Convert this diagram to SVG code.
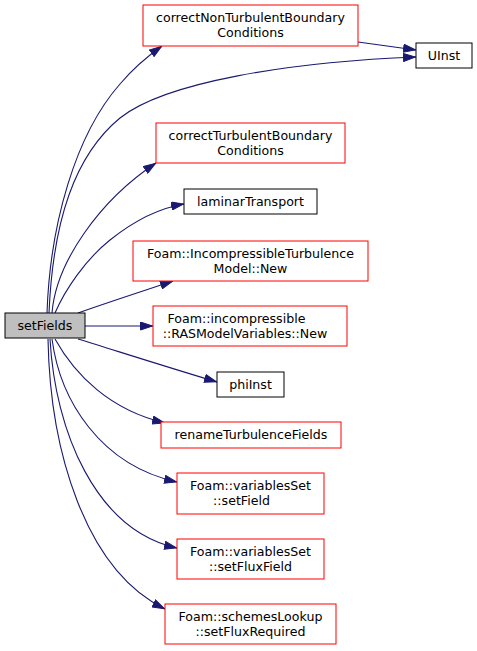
<svg xmlns="http://www.w3.org/2000/svg" width="477" height="651" viewBox="0 0 477 651">
<defs>
<marker id="arr" markerUnits="userSpaceOnUse" markerWidth="13" markerHeight="9" refX="13" refY="4.5" orient="auto" viewBox="0 0 13 9">
<path d="M0.5,0.5 L12.5,4.5 L0.5,8.5 z" fill="#191970" stroke="#191970" stroke-width="1"/>
</marker>
</defs>
<style>
.n rect{fill:#fff;stroke:#ff0000;stroke-width:1}
.n.b rect{stroke:#000}
.n.cur rect{fill:#bfbfbf;stroke:#000}
.n text{font-family:"DejaVu Sans",sans-serif;font-size:12.6px;fill:#000;text-anchor:middle}
.e path{fill:none;stroke:#191970;stroke-width:1.1;marker-end:url(#arr)}
</style>
<g id="edges" class="e">
<path d="M47,313 C50,225 75,135 120,84 C131,71 145,58 162,46"/>
<path d="M49,313 C53,220 75,155 120,118 C165,82 290,62 416,57"/>
<path d="M358,42 L416,50"/>
<path d="M52,313 C56,262 100,200 156,163"/>
<path d="M55,313 C65,290 85,260 110,240 C135,220 160,208 184,204"/>
<path d="M78,313 C100,305 140,292 173,281"/>
<path d="M85,326 L153,326"/>
<path d="M78,339 C120,352 170,368 217,382"/>
<path d="M55,339 C75,375 110,410 165,423"/>
<path d="M52,339 C60,400 100,465 177,482"/>
<path d="M50,339 C55,430 95,530 177,548"/>
<path d="M48,339 C50,450 85,570 165,609"/>
</g>
<g id="setFields" class="n cur"><rect x="5" y="313" width="80" height="25"/><text x="45" y="330">setFields</text></g>
<g id="correctNonTurbulentBoundaryConditions" class="n"><rect x="143" y="5" width="215" height="41"/><text x="250.5" y="22">correctNonTurbulentBoundary</text><text x="250.5" y="37">Conditions</text></g>
<g id="UInst" class="n b"><rect x="416" y="43" width="56" height="25"/><text x="444" y="60">UInst</text></g>
<g id="correctTurbulentBoundaryConditions" class="n"><rect x="156" y="123" width="189" height="40"/><text x="250.5" y="140">correctTurbulentBoundary</text><text x="250.5" y="155">Conditions</text></g>
<g id="laminarTransport" class="n b"><rect x="184" y="189" width="133" height="25"/><text x="250.5" y="206">laminarTransport</text></g>
<g id="IncompressibleTurbulenceModelNew" class="n"><rect x="133" y="241" width="235" height="40"/><text x="250.5" y="258">Foam::IncompressibleTurbulence</text><text x="250.5" y="273">Model::New</text></g>
<g id="RASModelVariablesNew" class="n"><rect x="153" y="306" width="194" height="40"/><text x="236.5" y="323">Foam::incompressible</text><text x="245" y="338">::RASModelVariables::New</text></g>
<g id="phiInst" class="n b"><rect x="217" y="372" width="67" height="25"/><text x="250.5" y="389">phiInst</text></g>
<g id="renameTurbulenceFields" class="n"><rect x="161" y="422" width="180" height="26"/><text x="251" y="439">renameTurbulenceFields</text></g>
<g id="setField" class="n"><rect x="177" y="473" width="147" height="41"/><text x="250.5" y="490">Foam::variablesSet</text><text x="241.5" y="505">::setField</text></g>
<g id="setFluxField" class="n"><rect x="177" y="539" width="147" height="40"/><text x="250.5" y="556">Foam::variablesSet</text><text x="250.5" y="571">::setFluxField</text></g>
<g id="setFluxRequired" class="n"><rect x="165" y="604" width="171" height="40"/><text x="250.5" y="621">Foam::schemesLookup</text><text x="250.5" y="636">::setFluxRequired</text></g>
</svg>
